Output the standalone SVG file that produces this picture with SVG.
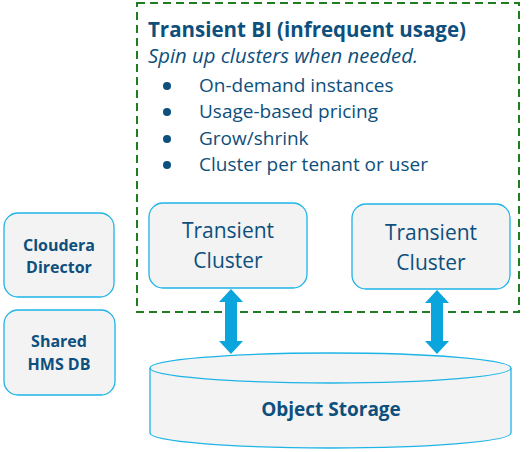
<svg xmlns="http://www.w3.org/2000/svg" width="530" height="452" viewBox="0 0 530 452">
<style>
.box{fill:#f3f3f3;stroke:#1eb4e6;stroke-width:1.3}
.t{font-family:"Open Sans","Liberation Sans",sans-serif;fill:#0d4f7d}
.b{font-weight:bold}
.arr{fill:#0aa5dc}
</style>
<rect width="530" height="452" fill="#ffffff"/>
<g id="transient-bi">
<rect x="137" y="3" width="382" height="309" fill="none" stroke="#1f7e1f" stroke-width="2" stroke-dasharray="8,5"/>
<text class="t b" x="148" y="37" font-size="20.5" textLength="318" lengthAdjust="spacingAndGlyphs">Transient BI (infrequent usage)</text>
<text class="t" x="148" y="63" font-size="19.5" font-style="italic" textLength="270" lengthAdjust="spacingAndGlyphs">Spin up clusters when needed.</text>
<g class="t" font-size="19">
<circle cx="167" cy="86" r="4" fill="#0d4f7d"/><text x="199" y="92">On-demand instances</text>
<circle cx="167" cy="112" r="4" fill="#0d4f7d"/><text x="199" y="118">Usage-based pricing</text>
<circle cx="167" cy="139" r="4" fill="#0d4f7d"/><text x="199" y="145">Grow/shrink</text>
<circle cx="167" cy="165" r="4" fill="#0d4f7d"/><text x="199" y="171">Cluster per tenant or user</text>
</g>
</g>
<g id="cluster1">
<rect class="box" x="149" y="203" width="158" height="85" rx="14"/>
<text class="t" x="228" y="238" font-size="21" text-anchor="middle">Transient</text>
<text class="t" x="228" y="268" font-size="21" text-anchor="middle">Cluster</text>
</g>
<g id="cluster2">
<rect class="box" x="352" y="204" width="158" height="85" rx="14"/>
<text class="t" x="431" y="240" font-size="21" text-anchor="middle">Transient</text>
<text class="t" x="431" y="270" font-size="21" text-anchor="middle">Cluster</text>
</g>
<g id="cloudera-director">
<rect class="box" x="4" y="213" width="110" height="84" rx="14"/>
<text class="t b" x="59" y="251" font-size="16" text-anchor="middle">Cloudera</text>
<text class="t b" x="59" y="273" font-size="16" text-anchor="middle">Director</text>
</g>
<g id="shared-hms-db">
<rect class="box" x="4" y="310" width="111" height="85" rx="14"/>
<text class="t b" x="59" y="347" font-size="16" text-anchor="middle">Shared</text>
<text class="t b" x="59" y="370" font-size="16" text-anchor="middle">HMS DB</text>
</g>
<g id="object-storage">
<path class="box" d="M150,368 L150,433 A180.5,15 0 0 0 511,433 L511,368 A180.5,15 0 0 0 150,368 Z"/>
<path d="M150,368 A180.5,15 0 0 0 511,368" fill="none" stroke="#1eb4e6" stroke-width="1.3"/>
<text class="t b" x="331" y="416" font-size="19" text-anchor="middle">Object Storage</text>
</g>
<g id="connectors">
<path class="arr" d="M231,289 L243,302 L237,302 L237,341 L243,341 L231,354 L219,341 L225,341 L225,302 L219,302 Z"/>
<path class="arr" d="M437,290 L449,303 L443,303 L443,341 L449,341 L437,354 L425,341 L431,341 L431,303 L425,303 Z"/>
</g>
</svg>
